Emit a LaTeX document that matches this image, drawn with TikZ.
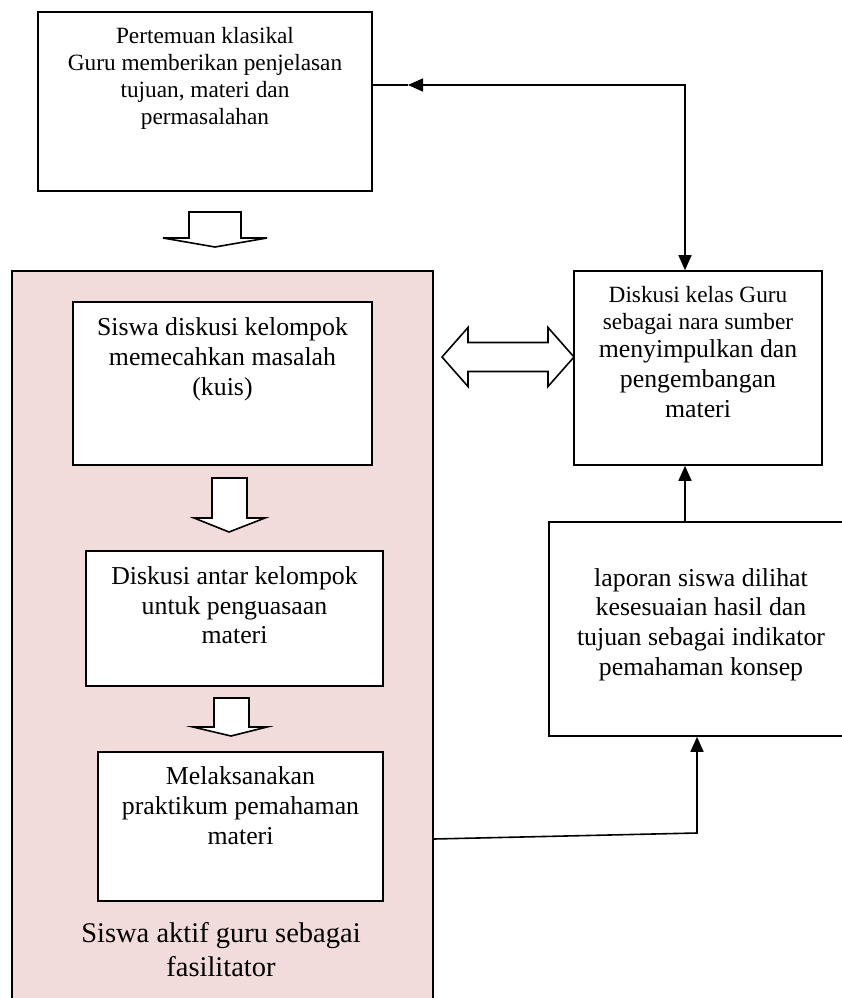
\documentclass[tikz,border=0pt]{standalone}
\usepackage{fontspec}
\setmainfont{Liberation Serif}
\usetikzlibrary{arrows.meta,calc}
\definecolor{panelpink}{HTML}{F2DCDB}
\tikzset{
  boxst/.style={draw=black, line width=1.6pt, fill=white, inner sep=0pt},
  txt/.style={align=center, inner sep=0pt},
  fsmall/.style={font=\fontsize{23.3}{27}\selectfont},
  fmid/.style={font=\fontsize{25.8}{30}\selectfont},
  fbig/.style={font=\fontsize{28.5}{34}\selectfont},
  conn/.style={draw=black, line width=1.6pt},
  tip/.tip={Triangle[length=15pt,width=13pt]},
  blockarrow/.style={draw=black, line width=1.6pt, fill=white, line join=miter}
}
\begin{document}
\begin{tikzpicture}[x=1pt,y=-1pt]
\useasboundingbox (0,0) rectangle (842,998);
\fill[white] (0,0) rectangle (842,998);

% pink panel
\node[draw=black, line width=1.6pt, fill=panelpink, inner sep=0pt,
      minimum width=421pt, minimum height=740pt] (panel) at (222.5,641) {};

% boxes
\node[boxst, minimum width=334pt, minimum height=179pt] (tb) at (205,101.5) {};
\node[boxst, minimum width=299pt, minimum height=163pt] (b1) at (222.5,383.5) {};
\node[boxst, minimum width=297pt, minimum height=135pt] (b2) at (234.5,618.5) {};
\node[boxst, minimum width=285pt, minimum height=149pt] (b3) at (240.5,826.5) {};
\node[boxst, minimum width=248pt, minimum height=194pt] (rt) at (698,368) {};
\node[boxst, minimum width=296pt, minimum height=214pt] (rb) at (697,629) {};

% texts
\node[txt, fsmall] (tbT) at (205,78) {Pertemuan klasikal\\Guru memberikan penjelasan\\tujuan, materi dan\\permasalahan};
\node[txt, fmid] (b1T) at (222.5,359.6) {Siswa diskusi kelompok\\memecahkan masalah\\(kuis)};
\node[txt, font=\fontsize{25.8}{29.5}\selectfont] (b2T) at (234.5,605.5) {Diskusi antar kelompok\\untuk penguasaan\\materi};
\node[txt, fmid] (b3T) at (240.5,806) {Melaksanakan\\praktikum pemahaman\\materi};
\node[txt, fbig] (lblT) at (221,950) {Siswa aktif guru sebagai\\fasilitator};
\node[txt, fsmall] (rtA) at (698,310) {Diskusi kelas Guru\\sebagai nara sumber};
\node[txt, fmid] (rtB) at (698,379) {menyimpulkan dan\\pengembangan\\materi};
\node[txt, font=\fontsize{25.8}{29.7}\selectfont] (rbT) at (701,624.5) {laporan siswa dilihat\\kesesuaian hasil dan\\tujuan sebagai indikator\\pemahaman konsep};

% block arrows (shapes)
\draw[blockarrow] (189,212) -- (241,212) -- (241,238) -- (267,238) -- (215,247) -- (163,238) -- (189,238) -- cycle;
\draw[blockarrow] (212,478) -- (247,478) -- (247,518) -- (265,518) -- (229,532) -- (194,518) -- (212,518) -- cycle;
\draw[blockarrow] (214,698) -- (249,698) -- (249,727) -- (267,727) -- (231,736) -- (193,727) -- (214,727) -- cycle;
\draw[blockarrow] (442,357) -- (468,327.5) -- (468,342.5) -- (548,342.5) -- (548,327.5) -- (574,357)
      -- (548,386.5) -- (548,371.5) -- (468,371.5) -- (468,386.5) -- cycle;

% connectors
\coordinate (cx) at (685,0);
\coordinate (cy) at (0,85);
\coordinate (ah) at (408,85);
\coordinate (px) at (697,833);
\coordinate (py) at (0,839);

\draw[conn, tip-tip] (rt.north -| cx) -- (cx |- cy) -- (ah);
\draw[conn] (ah) -- (tb.east |- cy);
\draw[conn, -tip] (rb.north -| cx) -- (rt.south -| cx);
\draw[conn, -tip] (panel.east |- py) -- (px) -- (rb.south -| px);
\end{tikzpicture}
\end{document}
